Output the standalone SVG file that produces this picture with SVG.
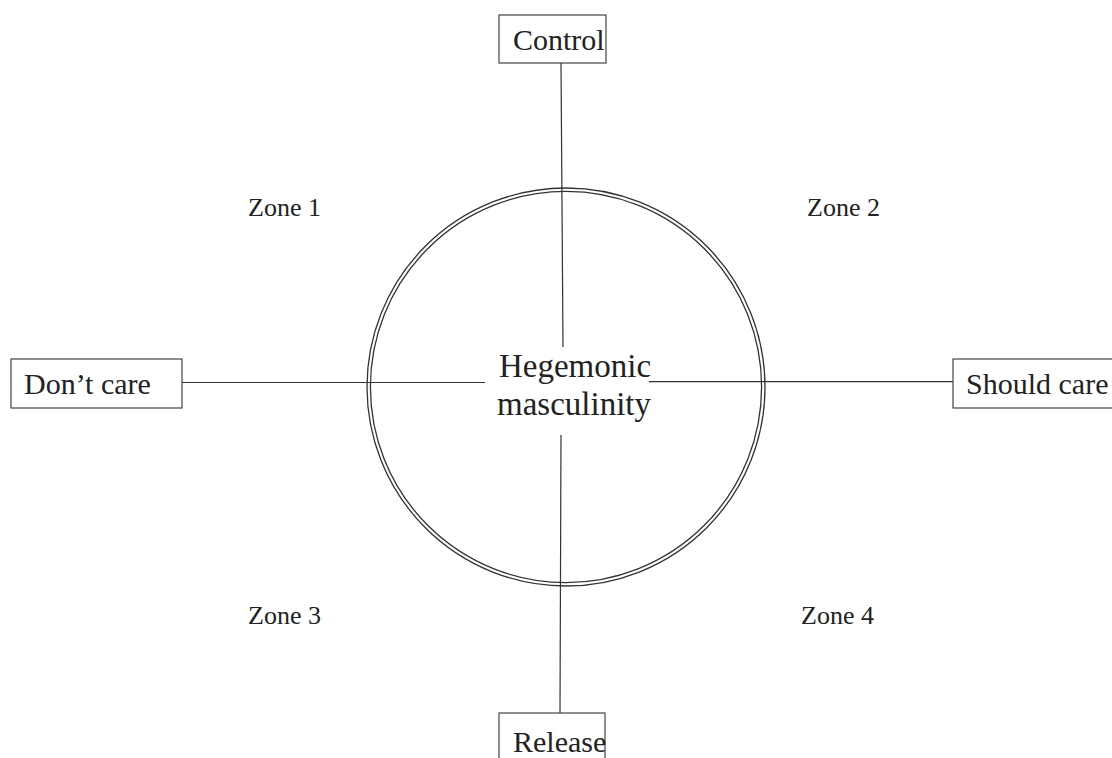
<svg xmlns="http://www.w3.org/2000/svg" width="1112" height="758" viewBox="0 0 1112 758">
<style>
.box{fill:#fff;stroke:#444;stroke-width:1.2}
.lbl{font-family:"Liberation Serif","Times New Roman",serif;font-size:30px;fill:#222}
.zone{font-family:"Liberation Serif","Times New Roman",serif;font-size:26px;fill:#222}
.ctr{font-family:"Liberation Serif","Times New Roman",serif;font-size:33px;fill:#222;text-anchor:middle}
.ln{stroke:#333;stroke-width:1.2;fill:none}
.ring{fill:none;stroke:#333;stroke-width:1.3}
</style>
<rect width="1112" height="758" fill="#fff"/>
<g id="circle">
<circle class="ring" cx="566" cy="387" r="199"/>
<circle class="ring" cx="566" cy="387" r="195.6"/>
</g>
<g id="connectors">
<line class="ln" x1="561" y1="63" x2="563" y2="347"/>
<line class="ln" x1="561" y1="435" x2="560" y2="713"/>
<line class="ln" x1="182" y1="382.5" x2="485" y2="382.5"/>
<line class="ln" x1="649" y1="381.7" x2="953" y2="381.7"/>
</g>
<g id="control">
<rect class="box" x="499" y="15" width="107" height="48"/>
<text class="lbl" x="513" y="50">Control</text>
</g>
<g id="dont-care">
<rect class="box" x="11" y="359" width="171" height="49"/>
<text class="lbl" x="24" y="394">Don’t care</text>
</g>
<g id="should-care">
<rect class="box" x="953" y="359" width="170" height="49"/>
<text class="lbl" x="966" y="394">Should care</text>
</g>
<g id="release">
<rect class="box" x="499" y="713" width="106" height="60"/>
<text class="lbl" x="513" y="752">Release</text>
</g>
<g id="center">
<text class="ctr" x="575" y="377">Hegemonic</text>
<text class="ctr" x="574" y="415">masculinity</text>
</g>
<g id="zones">
<text class="zone" x="248" y="216">Zone 1</text>
<text class="zone" x="807" y="216">Zone 2</text>
<text class="zone" x="248" y="624">Zone 3</text>
<text class="zone" x="801" y="624">Zone 4</text>
</g>
</svg>
